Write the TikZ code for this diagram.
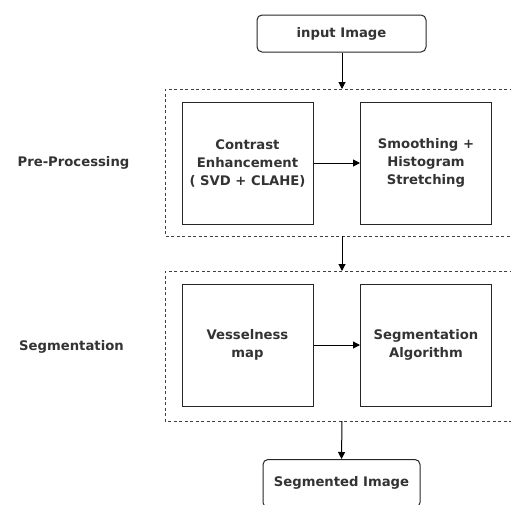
\documentclass[tikz,border=0pt]{standalone}
\usepackage{fontspec}
\setmainfont{DejaVu Sans}
\usetikzlibrary{arrows.meta}
\begin{document}
\begin{tikzpicture}[x=1pt,y=-1pt,
  txt/.style={font=\fontsize{13.2}{18}\selectfont\bfseries, text=black!80, align=center},
  proc/.style={draw=black!85, line width=1pt, minimum width=131pt, minimum height=122pt, inner sep=0pt, txt},
  term/.style={draw=black!85, line width=1pt, rounded corners=5pt, inner sep=0pt, txt},
  grp/.style={draw=black!75, line width=0.9pt, dash pattern=on 3pt off 2.5pt},
  conn/.style={draw=black, line width=1pt, -{Triangle[length=7pt,width=7pt]}}]
\useasboundingbox (0,0) rectangle (511,504);
\begin{scope}
\clip (0,0) rectangle (511,504);
% group boxes
\draw[grp] (540,89) -- (165,89) -- (165,236) -- (540,236);
\draw[grp] (540,271) -- (165,271) -- (165,421) -- (540,421);
\coordinate (g1t) at (342,89);
\coordinate (g1b) at (342,236);
\coordinate (g2t) at (342,271);
\coordinate (g2b) at (342,421);
% terminals
\node[term, minimum width=169pt, minimum height=37pt] (in) at (341.5,33.5) {input Image};
\node[term, minimum width=157pt, minimum height=48pt, anchor=north] (out) at (341.5,459) {};
\node[txt] (outt) at (341.5,483) {Segmented Image};
% processes
\node[proc] (ce) at (247.5,163) {Contrast\\Enhancement\\( SVD + CLAHE)};
\node[proc] (sm) at (426,163) {Smoothing +\\Histogram\\Stretching};
\node[proc] (vm) at (247.5,345) {Vesselness\\map};
\node[proc] (sa) at (426,345) {Segmentation\\Algorithm};
% labels
\node[txt] (lp) at (73.5,163) {Pre-Processing};
\node[txt] (ls) at (71.5,347) {Segmentation};
% connectors
\draw[conn] (in.south -| g1t) -- (g1t);
\draw[conn] (g1b) -- (g2t);
\draw[conn] (g2b) -- (out.north);
\draw[conn] (ce) -- (sm);
\draw[conn] (vm) -- (sa);
\end{scope}
\end{tikzpicture}
\end{document}
